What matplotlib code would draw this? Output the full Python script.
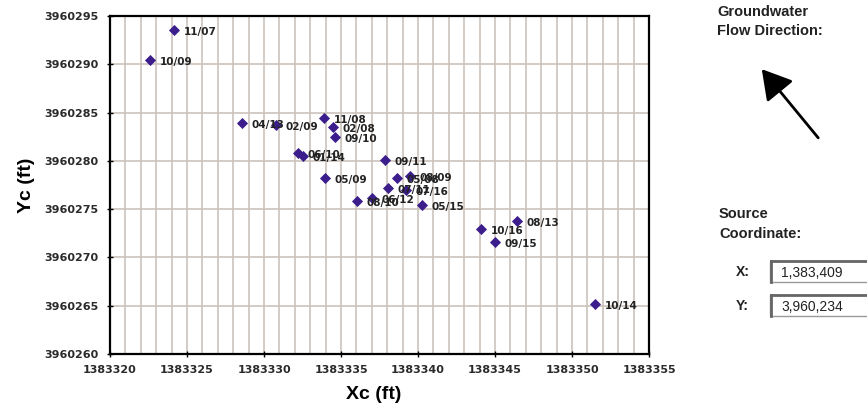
"""
Groundwater gradient source coordinates (Xc, Yc) by sampling date.
"""

import matplotlib
matplotlib.use("Agg")
import matplotlib.pyplot as plt
from matplotlib.ticker import MultipleLocator, FormatStrFormatter
from matplotlib.patches import Rectangle, FancyArrowPatch
from matplotlib.lines import Line2D

X0 = 1383320
Y0 = 3960260

dates = ["11/07", "10/09", "04/13", "02/09", "11/08", "02/08", "09/10",
         "06/10", "01/14", "09/11", "05/09", "05/08", "08/09", "07/11",
         "07/16", "08/10", "06/12", "05/15", "10/16", "08/13", "09/15", "10/14"]
xc_offset = [4.16, 2.60, 8.57, 10.78, 13.90, 14.48, 14.61,
             12.21, 12.53, 17.86, 13.96, 18.64, 19.48, 18.05,
             19.22, 16.04, 17.01, 20.26, 24.09, 26.43, 25.00, 31.49]
yc_offset = [33.55, 30.45, 23.92, 23.72, 24.44, 23.51, 22.47,
             20.82, 20.51, 20.09, 18.23, 18.23, 18.44, 17.19,
             16.99, 15.85, 16.16, 15.43, 12.95, 13.78, 11.60, 5.19]
xc = [X0 + v for v in xc_offset]
yc = [Y0 + v for v in yc_offset]

source_x = "1,383,409"
source_y = "3,960,234"

plt.rcParams["font.family"] = ["Liberation Sans", "DejaVu Sans"]
TICK_FONT = "DejaVu Sans"


def fig_text(fig, x_px, y_px, s, **kw):
    # place text by pixel position (from top-left) of its centre line
    kw.setdefault("va", "center")
    kw.setdefault("ha", "left")
    kw.setdefault("color", "#222222")
    fig.text(x_px / 867, 1 - y_px / 409, s, **kw)


def main():
    fig = plt.figure(figsize=(8.67, 4.09), dpi=100)
    ax = fig.add_axes([0.1269, 0.1345, 0.6217, 0.8264])

    ax.scatter(xc, yc, marker="D", s=32, color="#3b1e8c", zorder=3, linewidths=0)
    for d, x, y in zip(dates, xc, yc):
        ax.annotate(d, (x, y), xytext=(7, -1.5), textcoords="offset points",
                    va="center", ha="left", fontsize=7.5, fontweight="bold",
                    family=TICK_FONT, color="#222222", zorder=4)

    ax.set_xlim(X0, X0 + 35)
    ax.set_ylim(Y0, Y0 + 35)
    ax.xaxis.set_major_locator(MultipleLocator(5))
    ax.xaxis.set_minor_locator(MultipleLocator(1))
    ax.yaxis.set_major_locator(MultipleLocator(5))
    ax.xaxis.set_major_formatter(FormatStrFormatter("%d"))
    ax.yaxis.set_major_formatter(FormatStrFormatter("%d"))

    gc = "#cbc2bc"
    ax.grid(True, which="major", axis="both", color=gc, lw=1.2, zorder=0)
    ax.grid(True, which="minor", axis="x", color=gc, lw=1.2, zorder=0)
    ax.set_axisbelow(True)

    for s in ax.spines.values():
        s.set_linewidth(1.6)
        s.set_color("black")
    ax.tick_params(axis="both", which="major", direction="inout", length=4,
                   width=1, labelsize=8, pad=6)
    ax.tick_params(axis="x", which="minor", length=0)
    for lab in ax.get_xticklabels() + ax.get_yticklabels():
        lab.set_fontweight("bold")
        lab.set_family(TICK_FONT)
        lab.set_color("#2a2a2a")

    ax.set_xlabel("Xc (ft)", fontsize=14, fontweight="bold")
    ax.xaxis.set_label_coords(0.49, -0.095)
    ax.set_ylabel("Yc (ft)", fontsize=14, fontweight="bold")
    ax.yaxis.set_label_coords(-0.14, 0.5)

    # right-hand panel
    fig_text(fig, 717, 12, "Groundwater", fontsize=10.5, fontweight="bold")
    fig_text(fig, 717, 31, "Flow Direction:", fontsize=10.5, fontweight="bold")
    fig.add_artist(FancyArrowPatch(
        (820 / 867, 1 - 140 / 409), (760 / 867, 1 - 67 / 409),
        transform=fig.transFigure, arrowstyle="-|>,head_length=0.6,head_width=0.35",
        mutation_scale=30, lw=2, color="black"))

    fig_text(fig, 719, 214, "Source", fontsize=10.5, fontweight="bold")
    fig_text(fig, 719, 234, "Coordinate:", fontsize=10.5, fontweight="bold")

    for label, val, yc_px in [("X:", source_x, 272), ("Y:", source_y, 306)]:
        fig_text(fig, 736, yc_px, label, fontsize=10, fontweight="bold")
        top = 1 - (yc_px - 11) / 409
        bot = 1 - (yc_px + 10) / 409
        fig.add_artist(Rectangle((770 / 867, bot), 100 / 867, top - bot,
                                 transform=fig.transFigure, facecolor="white",
                                 edgecolor="#999999", lw=1.0))
        fig.add_artist(Line2D([771 / 867, 771 / 867], [bot, top],
                              transform=fig.transFigure, color="#666666", lw=2))
        fig.add_artist(Line2D([771 / 867, 1.0], [top, top],
                              transform=fig.transFigure, color="#666666", lw=2))
        fig_text(fig, 812, yc_px + 1, val, fontsize=10, ha="center")

    fig.savefig("out.png", dpi=100, facecolor="white")


if __name__ == "__main__":
    main()
